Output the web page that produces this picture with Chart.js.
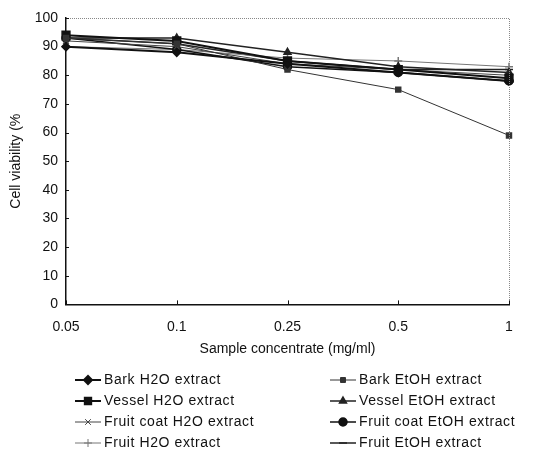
<!DOCTYPE html>
<html>
<head>
<meta charset="utf-8">
<script src="https://cdn.jsdelivr.net/npm/chart.js@4.4.0/dist/chart.umd.min.js"></script>
<style>
  html, body { margin: 0; padding: 0; background: #fff; }
  #wrap { width: 553px; height: 449px; position: relative; }
</style>
</head>
<body>
<div id="wrap"><canvas id="chart"></canvas></div>
<script>
const concentrations = ['0.05', '0.1', '0.25', '0.5', '1'];

const barkH2O = [90, 88, 84, 81, 78];
const barkEtOH = [93, 91, 82, 75, 59];
const vesselH2O = [94, 92, 85, 82, 79];
const vesselEtOH = [93, 93, 88, 83, 81];
const fruitCoatH2O = [92, 90, 84, 82, 80];
const fruitCoatEtOH = [93, 89, 83, 81, 78];
const fruitH2O = [90, 89, 86, 85, 83];
const fruitEtOH = [93, 91, 85, 82, 82];

const yTicks = [0, 10, 20, 30, 40, 50, 60, 70, 80, 90, 100];

function series(label, data, pointStyle, radius, width, color) {
    return {
        label: label,
        data: data,
        pointStyle: pointStyle,
        pointRadius: radius,
        borderColor: color,
        backgroundColor: color,
        borderWidth: width,
        pointBorderWidth: 1.5,
        fill: false,
        tension: 0
    };
}

const datasets = [
    series('Bark H2O extract', barkH2O, 'rectRot', 4, 2, '#111'),
    series('Bark EtOH extract', barkEtOH, 'rect', 3.5, 1, '#333'),
    series('Vessel H2O extract', vesselH2O, 'rect', 5.5, 2, '#111'),
    series('Vessel EtOH extract', vesselEtOH, 'triangle', 4, 1.5, '#222'),
    series('Fruit coat H2O extract', fruitCoatH2O, 'crossRot', 4, 1, '#444'),
    series('Fruit coat EtOH extract', fruitCoatEtOH, 'circle', 4, 1.5, '#111'),
    series('Fruit H2O extract', fruitH2O, 'cross', 4, 1, '#777'),
    series('Fruit EtOH extract', fruitEtOH, 'line', 4, 1.5, '#222')
];

// dotted frame on top/right + two-column legend
const framePlugin = {
    id: 'frame',
    afterDraw(chart) {
        const ctx = chart.ctx;
        const a = chart.chartArea;
        ctx.save();
        ctx.strokeStyle = '#888';
        ctx.lineWidth = 1;
        ctx.setLineDash([1, 1]);
        ctx.beginPath();
        ctx.moveTo(a.left, a.top + 0.5);
        ctx.lineTo(a.right + 0.5, a.top + 0.5);
        ctx.lineTo(a.right + 0.5, a.bottom);
        ctx.stroke();
        ctx.setLineDash([]);

        // small inward ticks on both axes
        ctx.strokeStyle = '#111';
        ctx.lineWidth = 1;
        const xs = chart.scales.x, ys = chart.scales.y;
        ctx.beginPath();
        xs.ticks.forEach((t, i) => {
            const px = Math.round(xs.getPixelForTick(i)) + 0.5;
            ctx.moveTo(px, a.bottom);
            ctx.lineTo(px, a.bottom - 4);
        });
        ys.ticks.forEach((t, i) => {
            const py = Math.round(ys.getPixelForTick(i)) + 0.5;
            ctx.moveTo(a.left, py);
            ctx.lineTo(a.left + 3, py);
        });
        ctx.stroke();

        // legend
        ctx.font = '14px "Liberation Sans", Arial, sans-serif';
        ctx.textBaseline = 'middle';
        if ('letterSpacing' in ctx) ctx.letterSpacing = '0.6px';
        const colX = [75, 330];
        const rowY0 = 380, rowGap = 21;
        chart.data.datasets.forEach((ds, i) => {
            const x = colX[i % 2];
            const y = rowY0 + Math.floor(i / 2) * rowGap;
            ctx.strokeStyle = ds.borderColor;
            ctx.fillStyle = ds.borderColor;
            ctx.lineWidth = ds.borderWidth;
            ctx.beginPath();
            ctx.moveTo(x, y);
            ctx.lineTo(x + 26, y);
            ctx.stroke();
            Chart.helpers.drawPoint(ctx, {
                pointStyle: ds.pointStyle,
                radius: Math.min(ds.pointRadius, 4.5),
                borderWidth: 1.5
            }, x + 13, y);
            ctx.fillStyle = '#111';
            ctx.fillText(ds.label, x + 29, y);
        });
        ctx.restore();
    }
};

new Chart(document.getElementById('chart'), {
    type: 'line',
    data: { labels: concentrations, datasets: datasets },
    options: {
        responsive: true,
        maintainAspectRatio: false,
        animation: false,
        layout: { padding: { left: 4, right: 44, top: 18, bottom: 91 } },
        plugins: {
            legend: { display: false },
            tooltip: { enabled: false }
        },
        scales: {
            x: {
                offset: false,
                grid: { display: false, drawTicks: false },
                border: { display: true, color: '#111', width: 1.5 },
                ticks: {
                    color: '#111',
                    padding: 14,
                    maxRotation: 0,
                    font: { family: '"Liberation Sans", Arial, sans-serif', size: 14 }
                },
                title: {
                    display: true,
                    text: 'Sample concentrate (mg/ml)',
                    color: '#111',
                    padding: { top: -8, bottom: 0 },
                    font: { family: '"Liberation Sans", Arial, sans-serif', size: 14 }
                }
            },
            y: {
                min: 0,
                max: 100,
                afterBuildTicks(scale) { scale.ticks = yTicks.map(v => ({ value: v })); },
                grid: { display: false, drawTicks: false },
                border: { display: true, color: '#111', width: 1.5 },
                ticks: {
                    color: '#111',
                    padding: 8,
                    font: { family: '"Liberation Sans", Arial, sans-serif', size: 14 }
                },
                title: {
                    display: true,
                    text: 'Cell viability (%',
                    color: '#111',
                    padding: { bottom: 4 },
                    font: { family: '"Liberation Sans", Arial, sans-serif', size: 14 }
                },
                afterFit(scale) { scale.width = 62; }
            }
        }
    },
    plugins: [framePlugin]
});
</script>
</body>
</html>
